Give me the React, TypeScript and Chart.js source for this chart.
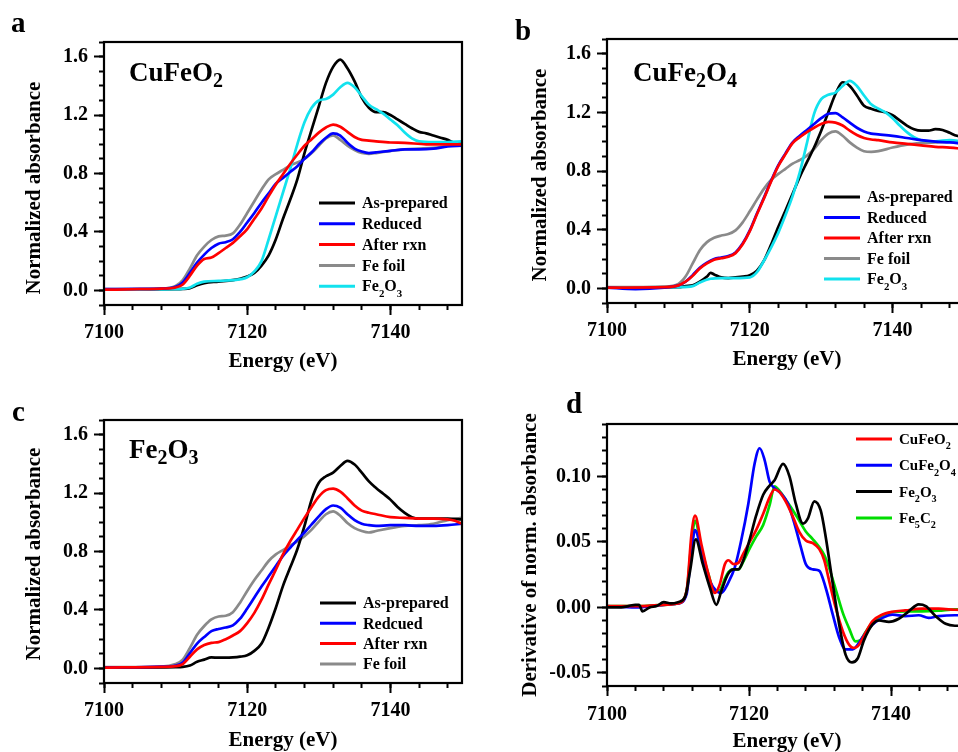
import React, { useEffect, useRef } from 'react';
import { Chart, registerables } from 'chart.js';

Chart.register(...registerables);

type Pt = [number, number];

// ---------------- Panel a: CuFeO2 ----------------
const aAsPrepared: Pt[] = [[7100,0.005],[7105,0.005],[7110,0.008],[7111,0.01],[7112,0.015],[7113,0.035],[7114,0.05],[7116,0.06],[7118,0.07],[7119,0.08],[7120,0.095],[7121,0.12],[7122,0.17],[7123,0.24],[7124,0.35],[7125,0.49],[7126,0.62],[7127,0.76],[7128,0.94],[7129,1.10],[7130,1.26],[7131,1.42],[7132,1.53],[7133,1.58],[7134,1.52],[7135,1.43],[7136,1.32],[7137,1.25],[7138,1.22],[7139,1.22],[7140,1.20],[7141,1.17],[7142,1.14],[7143,1.11],[7144,1.085],[7145,1.075],[7146,1.06],[7147,1.045],[7148,1.03],[7149,1.01],[7150,1.01]];
const aReduced: Pt[] = [[7100,0.008],[7105,0.01],[7108,0.012],[7110,0.025],[7111,0.055],[7112,0.12],[7113,0.19],[7114,0.245],[7115,0.29],[7116,0.32],[7117,0.33],[7118,0.35],[7119,0.40],[7120,0.465],[7121,0.53],[7122,0.60],[7123,0.665],[7124,0.73],[7125,0.77],[7126,0.81],[7127,0.85],[7128,0.90],[7129,0.945],[7130,1.0],[7131,1.045],[7132,1.075],[7133,1.06],[7134,1.01],[7135,0.97],[7136,0.95],[7137,0.94],[7138,0.945],[7140,0.955],[7142,0.965],[7144,0.965],[7146,0.97],[7148,0.985],[7150,0.99]];
const aAfterRxn: Pt[] = [[7100,0.005],[7105,0.008],[7108,0.012],[7110,0.02],[7111,0.04],[7112,0.10],[7113,0.17],[7114,0.215],[7115,0.225],[7116,0.255],[7117,0.29],[7118,0.325],[7119,0.37],[7120,0.42],[7121,0.49],[7122,0.56],[7123,0.645],[7124,0.725],[7125,0.795],[7126,0.865],[7127,0.93],[7128,0.99],[7129,1.035],[7130,1.08],[7131,1.115],[7132,1.135],[7133,1.12],[7134,1.085],[7135,1.05],[7136,1.03],[7137,1.025],[7138,1.02],[7140,1.012],[7142,1.01],[7145,1.0],[7150,1.0]];
const aFeFoil: Pt[] = [[7100,0.008],[7108,0.012],[7110,0.03],[7111,0.07],[7112,0.15],[7113,0.24],[7114,0.30],[7115,0.345],[7116,0.37],[7117,0.375],[7118,0.39],[7119,0.45],[7120,0.53],[7121,0.61],[7122,0.69],[7123,0.76],[7124,0.795],[7125,0.825],[7126,0.855],[7127,0.875],[7128,0.9],[7129,0.94],[7130,0.99],[7131,1.04],[7132,1.06],[7133,1.03],[7134,0.99],[7135,0.96],[7136,0.94],[7137,0.935],[7138,0.94],[7140,0.955],[7142,0.965],[7144,0.97],[7146,0.975],[7148,0.99],[7150,1.01]];
const aFe2O3: Pt[] = [[7100,0.005],[7110,0.008],[7112,0.02],[7113,0.045],[7114,0.06],[7116,0.065],[7118,0.07],[7120,0.09],[7121,0.13],[7122,0.2],[7123,0.35],[7124,0.51],[7125,0.67],[7126,0.83],[7127,1.0],[7128,1.15],[7129,1.25],[7130,1.30],[7131,1.31],[7132,1.34],[7133,1.39],[7134,1.42],[7135,1.39],[7136,1.33],[7137,1.27],[7138,1.24],[7139,1.21],[7140,1.17],[7141,1.13],[7142,1.08],[7143,1.04],[7144,1.02],[7146,1.015],[7148,1.015],[7150,1.02]];

// ---------------- Panel b: CuFe2O4 ----------------
const bAsPrepared: Pt[] = [[7100,0.005],[7110,0.008],[7111,0.015],[7112,0.02],[7113,0.045],[7114,0.08],[7114.5,0.105],[7115,0.095],[7116,0.075],[7117,0.07],[7118,0.075],[7119,0.08],[7120,0.09],[7121,0.12],[7122,0.19],[7123,0.30],[7124,0.42],[7125,0.53],[7126,0.645],[7127,0.76],[7128,0.86],[7129,0.96],[7130,1.075],[7131,1.20],[7132,1.325],[7133,1.405],[7134,1.38],[7135,1.315],[7136,1.245],[7137,1.225],[7138,1.21],[7139,1.20],[7140,1.18],[7141,1.145],[7142,1.11],[7143,1.085],[7144,1.075],[7145,1.075],[7146,1.085],[7147,1.08],[7148,1.06],[7149,1.04],[7150,1.03]];
const bReduced: Pt[] = [[7100,0.005],[7104,-0.005],[7108,0.005],[7110,0.02],[7111,0.045],[7112,0.09],[7113,0.14],[7114,0.175],[7115,0.20],[7116,0.21],[7117,0.22],[7118,0.245],[7119,0.305],[7120,0.395],[7121,0.51],[7122,0.62],[7123,0.735],[7124,0.84],[7125,0.92],[7126,0.995],[7127,1.04],[7128,1.08],[7129,1.12],[7130,1.16],[7131,1.19],[7132,1.195],[7133,1.165],[7134,1.13],[7135,1.095],[7136,1.07],[7137,1.055],[7138,1.05],[7140,1.04],[7142,1.025],[7144,1.01],[7146,1.0],[7148,0.995],[7150,0.985]];
const bAfterRxn: Pt[] = [[7100,0.005],[7108,0.008],[7110,0.02],[7111,0.045],[7112,0.085],[7113,0.135],[7114,0.17],[7115,0.195],[7116,0.205],[7117,0.215],[7118,0.24],[7119,0.30],[7120,0.39],[7121,0.505],[7122,0.615],[7123,0.73],[7124,0.835],[7125,0.915],[7126,0.99],[7127,1.03],[7128,1.065],[7129,1.095],[7130,1.12],[7131,1.135],[7132,1.13],[7133,1.11],[7134,1.075],[7135,1.045],[7136,1.025],[7137,1.015],[7138,1.01],[7140,0.995],[7142,0.985],[7144,0.975],[7146,0.965],[7148,0.96],[7150,0.95]];
const bFeFoil: Pt[] = [[7100,0.008],[7108,0.012],[7110,0.03],[7111,0.08],[7112,0.17],[7113,0.26],[7114,0.315],[7115,0.345],[7116,0.36],[7117,0.37],[7118,0.395],[7119,0.45],[7120,0.525],[7121,0.605],[7122,0.68],[7123,0.74],[7124,0.78],[7125,0.815],[7126,0.85],[7127,0.875],[7128,0.905],[7129,0.95],[7130,1.01],[7131,1.055],[7132,1.07],[7133,1.04],[7134,0.995],[7135,0.96],[7136,0.935],[7137,0.93],[7138,0.935],[7140,0.96],[7142,0.98],[7144,0.99],[7146,0.995],[7148,1.0],[7150,1.0]];
const bFe2O3: Pt[] = [[7100,0.005],[7110,0.008],[7112,0.015],[7113,0.04],[7114.5,0.065],[7116,0.07],[7118,0.07],[7120,0.075],[7121,0.11],[7122,0.19],[7123,0.28],[7124,0.38],[7125,0.50],[7126,0.63],[7127,0.79],[7128,0.99],[7129,1.19],[7130,1.29],[7131,1.32],[7132,1.335],[7133,1.38],[7134,1.415],[7135,1.38],[7136,1.315],[7137,1.255],[7138,1.225],[7139,1.20],[7140,1.16],[7141,1.11],[7142,1.065],[7143,1.03],[7144,1.01],[7146,1.003],[7148,1.01],[7150,1.0]];

// ---------------- Panel c: Fe2O3 ----------------
const cAsPrepared: Pt[] = [[7100,0.005],[7110,0.008],[7111,0.01],[7112,0.02],[7113,0.045],[7114,0.06],[7115,0.075],[7116,0.073],[7117,0.073],[7118,0.075],[7119,0.08],[7120,0.09],[7121,0.12],[7122,0.17],[7123,0.28],[7124,0.415],[7125,0.565],[7126,0.69],[7127,0.815],[7128,0.975],[7129,1.155],[7130,1.27],[7131,1.315],[7132,1.34],[7133,1.385],[7134,1.42],[7135,1.395],[7136,1.34],[7137,1.28],[7138,1.235],[7139,1.195],[7140,1.155],[7141,1.105],[7142,1.065],[7143,1.035],[7144,1.025],[7146,1.025],[7148,1.025],[7150,1.02]];
const cReduced: Pt[] = [[7100,0.005],[7108,0.012],[7110,0.02],[7111,0.04],[7112,0.105],[7113,0.17],[7114,0.215],[7115,0.255],[7116,0.27],[7117,0.28],[7118,0.295],[7119,0.34],[7120,0.41],[7121,0.485],[7122,0.56],[7123,0.63],[7124,0.70],[7125,0.77],[7126,0.825],[7127,0.88],[7128,0.93],[7129,0.985],[7130,1.04],[7131,1.09],[7132,1.115],[7133,1.10],[7134,1.055],[7135,1.015],[7136,0.99],[7137,0.98],[7138,0.975],[7140,0.98],[7142,0.98],[7144,0.975],[7146,0.975],[7148,0.98],[7150,0.99]];
const cAfterRxn: Pt[] = [[7100,0.005],[7108,0.01],[7110,0.015],[7111,0.03],[7112,0.08],[7113,0.13],[7114,0.16],[7115,0.175],[7116,0.18],[7117,0.2],[7118,0.225],[7119,0.255],[7120,0.31],[7121,0.38],[7122,0.47],[7123,0.575],[7124,0.675],[7125,0.78],[7126,0.87],[7127,0.95],[7128,1.03],[7129,1.105],[7130,1.175],[7131,1.22],[7132,1.23],[7133,1.21],[7134,1.165],[7135,1.115],[7136,1.08],[7137,1.065],[7138,1.055],[7140,1.035],[7142,1.03],[7144,1.025],[7146,1.025],[7148,1.02],[7149,1.01],[7150,0.99]];
const cFeFoil: Pt[] = [[7100,0.008],[7108,0.012],[7110,0.03],[7111,0.06],[7112,0.14],[7113,0.23],[7114,0.29],[7115,0.335],[7116,0.355],[7117,0.36],[7118,0.385],[7119,0.45],[7120,0.53],[7121,0.605],[7122,0.67],[7123,0.735],[7124,0.78],[7125,0.81],[7126,0.84],[7127,0.87],[7128,0.905],[7129,0.95],[7130,1.005],[7131,1.055],[7132,1.075],[7133,1.045],[7134,0.995],[7135,0.96],[7136,0.94],[7137,0.93],[7138,0.94],[7140,0.96],[7142,0.975],[7144,0.98],[7146,0.99],[7148,1.015],[7150,1.03]];

// ---------------- Panel d: derivatives ----------------
const dCuFeO2: Pt[] = [[7100,0.001],[7105,0.001],[7108,0.002],[7110,0.003],[7111.2,0.0125],[7111.9,0.056],[7112.4,0.070],[7113.3,0.048],[7114.3,0.025],[7115.2,0.011],[7115.9,0.018],[7116.6,0.033],[7117.1,0.036],[7117.8,0.033],[7118.5,0.034],[7119.2,0.041],[7120.1,0.05],[7121,0.059],[7122,0.0715],[7122.9,0.084],[7123.6,0.09],[7124.3,0.088],[7125.2,0.0805],[7126.2,0.069],[7127.1,0.0575],[7128,0.051],[7129,0.049],[7129.9,0.0445],[7130.6,0.036],[7131.3,0.02],[7132.2,0],[7133.2,-0.018],[7134.1,-0.0285],[7134.8,-0.031],[7135.5,-0.0285],[7136.4,-0.0195],[7137.4,-0.0105],[7138.8,-0.0054],[7140.2,-0.0033],[7142,-0.0023],[7144.4,-0.001],[7146.7,-0.001],[7149,-0.0018],[7150,-0.002]];
const dCuFe2O4: Pt[] = [[7100,0.001],[7104,0.0],[7108,0.002],[7110,0.003],[7111.2,0.01],[7111.9,0.043],[7112.4,0.059],[7113.5,0.036],[7114.5,0.02],[7115.4,0.0125],[7116.1,0.011],[7117,0.018],[7118,0.0305],[7118.9,0.051],[7119.9,0.079],[7120.8,0.11],[7121.5,0.1215],[7122.2,0.1125],[7122.9,0.096],[7123.6,0.091],[7124.5,0.087],[7125.5,0.079],[7126.4,0.064],[7127.3,0.046],[7128,0.033],[7129,0.029],[7129.9,0.028],[7130.8,0.015],[7131.8,-0.0055],[7132.7,-0.023],[7133.6,-0.032],[7134.6,-0.032],[7135.5,-0.027],[7136.4,-0.0195],[7137.4,-0.013],[7138.8,-0.008],[7140.2,-0.0055],[7142,-0.0067],[7143.9,-0.006],[7145.3,-0.008],[7146.7,-0.0067],[7149,-0.006],[7150,-0.006]];
const dFe2O3: Pt[] = [[7100,0],[7102,0],[7103,0.001],[7104,0.002],[7104.5,0.002],[7105,-0.003],[7106,0],[7107,0.001],[7108,0.004],[7109,0.003],[7110,0.004],[7111,0.008],[7111.7,0.028],[7112.5,0.052],[7113.5,0.033],[7114.5,0.015],[7115.4,0.002],[7116.1,0.0125],[7117,0.025],[7117.8,0.029],[7118.5,0.029],[7119.2,0.036],[7120.1,0.052],[7121,0.07],[7122,0.086],[7122.9,0.093],[7123.6,0.097],[7124.8,0.1095],[7125.7,0.1],[7126.6,0.079],[7127.6,0.064],[7128.3,0.068],[7129.2,0.081],[7130.1,0.074],[7130.8,0.054],[7131.8,0.018],[7132.7,-0.013],[7133.6,-0.036],[7134.5,-0.042],[7135.3,-0.039],[7136.2,-0.025],[7137.4,-0.013],[7138.3,-0.01],[7139.7,-0.011],[7141.1,-0.0087],[7142.5,-0.003],[7143.9,0.0023],[7144.9,0.001],[7146.3,-0.0067],[7147.7,-0.0125],[7149,-0.014],[7150,-0.014]];
const dFe5C2: Pt[] = [[7100,0.001],[7105,0.001],[7108,0.002],[7110,0.003],[7111.2,0.012],[7111.9,0.05],[7112.4,0.066],[7113.3,0.045],[7114.3,0.025],[7115.2,0.012],[7115.9,0.013],[7116.6,0.022],[7117.1,0.027],[7117.8,0.029],[7118.5,0.029],[7119.2,0.035],[7120.1,0.045],[7121,0.054],[7122,0.063],[7122.9,0.078],[7123.6,0.0925],[7124.3,0.089],[7125.2,0.082],[7126.2,0.074],[7127.1,0.066],[7128,0.058],[7129,0.052],[7129.9,0.046],[7130.6,0.04],[7131.3,0.03],[7132.2,0.014],[7133.2,-0.004],[7134.1,-0.016],[7135,-0.026],[7135.7,-0.025],[7136.4,-0.019],[7137.4,-0.0115],[7138.8,-0.006],[7140.2,-0.0035],[7142,-0.003],[7144.4,-0.003],[7146.7,-0.0025],[7149,-0.0015],[7150,-0.0015]];

// ---------------- Ticks ----------------
const xMajorTicks = [7100, 7120, 7140];
const xMinorTicks = [7100, 7104, 7108, 7112, 7116, 7120, 7124, 7128, 7132, 7136, 7140, 7144, 7148];
const absMajorTicks = [0, 0.4, 0.8, 1.2, 1.6];
const absMinorTicks = [-0.1, 0, 0.1, 0.2, 0.3, 0.4, 0.5, 0.6, 0.7, 0.8, 0.9, 1.0, 1.1, 1.2, 1.3, 1.4, 1.5, 1.6, 1.7];
const derMajorTicks = [-0.05, 0, 0.05, 0.1];
const derMinorTicks = [-0.06, -0.05, -0.04, -0.03, -0.02, -0.01, 0, 0.01, 0.02, 0.03, 0.04, 0.05, 0.06, 0.07, 0.08, 0.09, 0.1, 0.11, 0.12, 0.13, 0.14];

const xRange = [7100, 7150];
const absRange = [-0.1, 1.7];
const derRange = [-0.06, 0.14];

const FONT = "'Liberation Serif', 'Times New Roman', serif";
const BLACK = '#000000';
const BLUE = '#0000ff';
const RED = '#ff0000';
const GRAY = '#8a8a8a';
const CYAN = '#12e2ee';
const GREEN = '#00dd00';

interface Series { label: string; data: Pt[]; color: string; order: number; }
interface PanelCfg {
  id: string; left: number; top: number; w: number; h: number;
  padding: { left: number; top: number; right: number; bottom: number };
  yRange: number[]; yMajor: number[]; yMinor: number[]; yDigits: number;
  series: Series[];
  letter: string; letterPos: [number, number];
  label?: string; labelPos?: [number, number];
  legend: { x: number; y: number; gap: number; size: number };
  xTitlePos: [number, number]; yTitle: string; yTitlePos: [number, number];
}

const panels: PanelCfg[] = [
  {
    id: 'a', left: 0, top: 0, w: 479, h: 376,
    padding: { left: 44, top: 42, right: 17, bottom: 31 },
    yRange: absRange, yMajor: absMajorTicks, yMinor: absMinorTicks, yDigits: 1,
    series: [
      { label: 'As-prepared', data: aAsPrepared, color: BLACK, order: 3 },
      { label: 'Reduced', data: aReduced, color: BLUE, order: 1 },
      { label: 'After rxn', data: aAfterRxn, color: RED, order: 0 },
      { label: 'Fe foil', data: aFeFoil, color: GRAY, order: 4 },
      { label: 'Fe_2O_3', data: aFe2O3, color: CYAN, order: 2 },
    ],
    letter: 'a', letterPos: [11, 32], label: 'CuFeO_2', labelPos: [129, 81],
    legend: { x: 319, y: 203, gap: 20.8, size: 16 },
    xTitlePos: [283, 362], yTitle: 'Normalized absorbance', yTitlePos: [35, 188],
  },
  {
    id: 'b', left: 479, top: 0, w: 500, h: 376,
    padding: { left: 68, top: 39, right: 15, bottom: 33 },
    yRange: absRange, yMajor: absMajorTicks, yMinor: absMinorTicks, yDigits: 1,
    series: [
      { label: 'As-prepared', data: bAsPrepared, color: BLACK, order: 3 },
      { label: 'Reduced', data: bReduced, color: BLUE, order: 1 },
      { label: 'After rxn', data: bAfterRxn, color: RED, order: 0 },
      { label: 'Fe foil', data: bFeFoil, color: GRAY, order: 4 },
      { label: 'Fe_2O_3', data: bFe2O3, color: CYAN, order: 2 },
    ],
    letter: 'b', letterPos: [36, 40], label: 'CuFe_2O_4', labelPos: [154, 81],
    legend: { x: 345, y: 197, gap: 20.5, size: 16 },
    xTitlePos: [308, 360], yTitle: 'Normalized absorbance', yTitlePos: [62, 175],
  },
  {
    id: 'c', left: 0, top: 376, w: 479, h: 376,
    padding: { left: 44, top: 44, right: 17, bottom: 29 },
    yRange: absRange, yMajor: absMajorTicks, yMinor: absMinorTicks, yDigits: 1,
    series: [
      { label: 'As-prepared', data: cAsPrepared, color: BLACK, order: 3 },
      { label: 'Redcued', data: cReduced, color: BLUE, order: 1 },
      { label: 'After rxn', data: cAfterRxn, color: RED, order: 0 },
      { label: 'Fe foil', data: cFeFoil, color: GRAY, order: 4 },
    ],
    letter: 'c', letterPos: [12, 45], label: 'Fe_2O_3', labelPos: [129, 82],
    legend: { x: 320, y: 227, gap: 20.3, size: 16 },
    xTitlePos: [283, 365], yTitle: 'Normalized absorbance', yTitlePos: [35, 178],
  },
  {
    id: 'd', left: 479, top: 376, w: 500, h: 376,
    padding: { left: 68, top: 48, right: 17, bottom: 26 },
    yRange: derRange, yMajor: derMajorTicks, yMinor: derMinorTicks, yDigits: 2,
    series: [
      { label: 'CuFeO_2', data: dCuFeO2, color: RED, order: 1 },
      { label: 'CuFe_2O_4', data: dCuFe2O4, color: BLUE, order: 2 },
      { label: 'Fe_2O_3', data: dFe2O3, color: BLACK, order: 0 },
      { label: 'Fe_5C_2', data: dFe5C2, color: GREEN, order: 3 },
    ],
    letter: 'd', letterPos: [87, 37],
    legend: { x: 377, y: 63, gap: 26.3, size: 15 },
    xTitlePos: [308, 366], yTitle: 'Derivative of norm. absorbance', yTitlePos: [52, 179],
  },
];

function richWidth(ctx: CanvasRenderingContext2D, text: string, size: number, subScale: number) {
  const parts = text.split(/_(.)/);
  let w = 0;
  parts.forEach((p, i) => {
    ctx.font = `bold ${i % 2 ? size * subScale : size}px ${FONT}`;
    w += ctx.measureText(p).width;
  });
  return w;
}

function drawRich(ctx: CanvasRenderingContext2D, text: string, x: number, y: number, size: number, subScale: number, subDy: number) {
  const parts = text.split(/_(.)/);
  let cx = x;
  ctx.textAlign = 'left';
  ctx.textBaseline = 'alphabetic';
  parts.forEach((p, i) => {
    if (!p) return;
    const sub = i % 2 === 1;
    ctx.font = `bold ${sub ? size * subScale : size}px ${FONT}`;
    ctx.fillText(p, cx, sub ? y + subDy : y);
    cx += ctx.measureText(p).width;
  });
}

function decorPlugin(cfg: PanelCfg) {
  return {
    id: 'decor' + cfg.id,
    afterDraw(chart: any) {
      const ctx: CanvasRenderingContext2D = chart.ctx;
      const ca = chart.chartArea;
      ctx.save();
      ctx.fillStyle = '#000';

      // legend
      const lg = cfg.legend;
      const textX = lg.x + 43;
      let maxW = 0;
      cfg.series.forEach((s) => { maxW = Math.max(maxW, richWidth(ctx, s.label, lg.size, 0.68)); });
      const bx = lg.x - 7, by = lg.y - 12;
      const bw = textX + maxW + 8 - bx, bh = (cfg.series.length - 1) * lg.gap + 26;
      ctx.fillStyle = '#ffffff';
      ctx.fillRect(bx, by, bw, bh);
      cfg.series.forEach((s, i) => {
        const ry = lg.y + i * lg.gap;
        ctx.strokeStyle = s.color;
        ctx.lineWidth = 3;
        ctx.beginPath();
        ctx.moveTo(lg.x, ry);
        ctx.lineTo(lg.x + 36, ry);
        ctx.stroke();
        ctx.fillStyle = '#000';
        drawRich(ctx, s.label, textX, ry + lg.size * 0.33, lg.size, 0.68, lg.size * 0.36);
      });

      // frame
      ctx.strokeStyle = '#000';
      ctx.lineWidth = 2.2;
      ctx.strokeRect(ca.left, ca.top, ca.right - ca.left, ca.bottom - ca.top);

      // inner label
      ctx.fillStyle = '#000';
      if (cfg.label && cfg.labelPos) {
        drawRich(ctx, cfg.label, cfg.labelPos[0], cfg.labelPos[1], 27, 0.74, 6);
      }
      // panel letter
      ctx.font = `bold 29px ${FONT}`;
      ctx.textAlign = 'left';
      ctx.textBaseline = 'alphabetic';
      ctx.fillText(cfg.letter, cfg.letterPos[0], cfg.letterPos[1]);

      // axis titles
      ctx.font = `bold 21px ${FONT}`;
      ctx.textAlign = 'center';
      ctx.textBaseline = 'middle';
      ctx.fillText('Energy (eV)', cfg.xTitlePos[0], cfg.xTitlePos[1]);
      ctx.translate(cfg.yTitlePos[0], cfg.yTitlePos[1]);
      ctx.rotate(-Math.PI / 2);
      ctx.fillText(cfg.yTitle, 0, 0);
      ctx.restore();
    },
  };
}

function Panel({ cfg }: { cfg: PanelCfg }) {
  const ref = useRef<HTMLCanvasElement>(null);
  useEffect(() => {
    if (!ref.current) return;
    const tickFont = { family: FONT, size: 20, weight: 'bold' as const };
    const minorGrid = { drawOnChartArea: false, tickLength: 5, tickWidth: 2, tickColor: '#000' };
    const majorGrid = { drawOnChartArea: false, tickLength: 10, tickWidth: 2, tickColor: '#000' };
    const chart = new Chart(ref.current, {
      type: 'line',
      data: {
        datasets: cfg.series.map((s) => ({
          label: s.label,
          data: s.data.map(([x, y]) => ({ x, y })),
          borderColor: s.color,
          backgroundColor: s.color,
          borderWidth: 2.7,
          pointRadius: 0,
          fill: false,
          cubicInterpolationMode: 'monotone' as const,
          order: s.order,
          xAxisID: 'x',
          yAxisID: 'y',
        })),
      },
      options: {
        responsive: false,
        animation: false,
        events: [],
        layout: { padding: cfg.padding },
        plugins: { legend: { display: false }, tooltip: { enabled: false } },
        scales: {
          x: {
            type: 'linear', position: 'bottom', weight: 1,
            min: xRange[0], max: xRange[1],
            afterBuildTicks: (s: any) => { s.ticks = xMajorTicks.map((v) => ({ value: v })); },
            afterFit: (s: any) => { s.height = 40; },
            ticks: { callback: (v: any) => String(v), font: tickFont, color: '#000', padding: cfg.id === 'd' ? 7 : 6, autoSkip: false, maxRotation: 0 },
            grid: majorGrid,
            border: { display: false },
          },
          x2: {
            type: 'linear', position: 'bottom', weight: 0,
            min: xRange[0], max: xRange[1],
            afterBuildTicks: (s: any) => { s.ticks = xMinorTicks.map((v) => ({ value: v })); },
            afterFit: (s: any) => { s.height = 0; },
            ticks: { display: false, autoSkip: false },
            grid: minorGrid,
            border: { display: false },
          },
          y: {
            type: 'linear', position: 'left', weight: 1,
            min: cfg.yRange[0], max: cfg.yRange[1],
            afterBuildTicks: (s: any) => { s.ticks = cfg.yMajor.map((v) => ({ value: v })); },
            afterFit: (s: any) => { s.width = 60; },
            ticks: { callback: (v: any) => Number(v).toFixed(cfg.yDigits), font: tickFont, color: '#000', padding: 6, autoSkip: false },
            grid: majorGrid,
            border: { display: false },
          },
          y2: {
            type: 'linear', position: 'left', weight: 0,
            min: cfg.yRange[0], max: cfg.yRange[1],
            afterBuildTicks: (s: any) => { s.ticks = cfg.yMinor.map((v) => ({ value: v })); },
            afterFit: (s: any) => { s.width = 0; },
            ticks: { display: false, autoSkip: false },
            grid: minorGrid,
            border: { display: false },
          },
        },
      } as any,
      plugins: [decorPlugin(cfg)],
    });
    return () => chart.destroy();
  }, [cfg]);
  return (
    <canvas
      ref={ref}
      width={cfg.w}
      height={cfg.h}
      style={{ position: 'absolute', left: cfg.left, top: cfg.top, width: cfg.w, height: cfg.h }}
    />
  );
}

export default function App() {
  return (
    <div style={{ position: 'fixed', left: 0, top: 0, width: 958, height: 752, overflow: 'hidden', background: '#ffffff' }}>
      {panels.map((p) => <Panel key={p.id} cfg={p} />)}
    </div>
  );
}
